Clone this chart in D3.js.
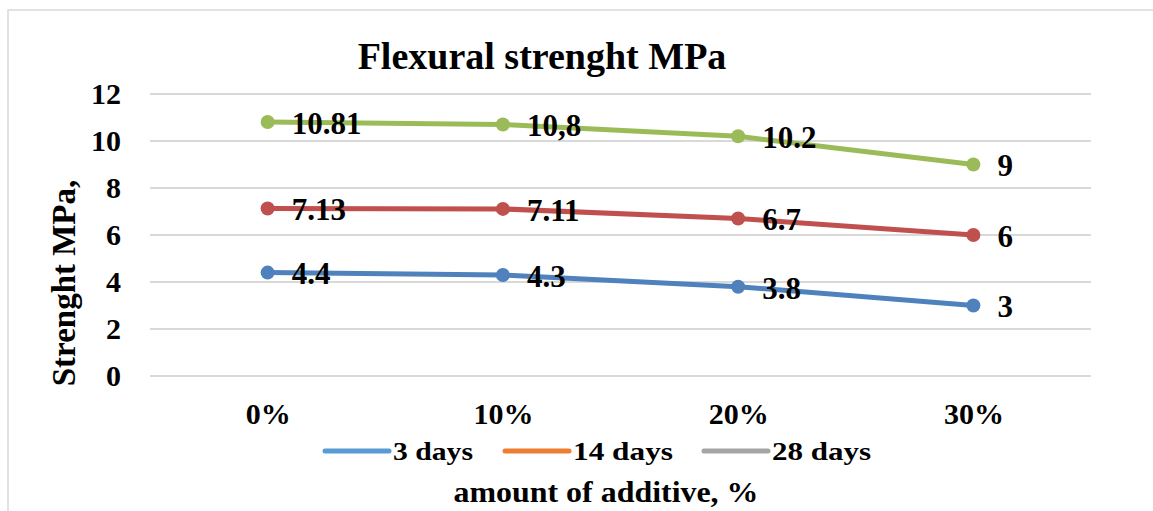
<!DOCTYPE html>
<html>
<head>
<meta charset="utf-8">
<script src="https://cdn.jsdelivr.net/npm/d3@7"></script>
<style>
  body { margin: 0; background: #fff; }
  text { font-family: "Liberation Serif", "Times New Roman", serif; font-weight: bold; fill: #000; }
</style>
</head>
<body>
<svg id="chart"></svg>
<script>
const categories = ["0%", "10%", "20%", "30%"];
const yTicks = [0, 2, 4, 6, 8, 10, 12];

const series = [
    { name: "3 days", line: "#4f81bd", legend: "#5b9bd5",
      values: [4.4, 4.3, 3.8, 3.0], labels: ["4.4", "4.3", "3.8", "3"] },
    { name: "14 days", line: "#c0504d", legend: "#ed7d31",
      values: [7.13, 7.11, 6.7, 6.0], labels: ["7.13", "7.11", "6.7", "6"] },
    { name: "28 days", line: "#9bbb59", legend: "#a5a5a5",
      values: [10.81, 10.7, 10.2, 9.0], labels: ["10.81", "10,8", "10.2", "9"] }
];

const width = 1153;
const height = 511;
const margin = { left: 150, right: 62, top: 94, bottom: 135 };

const svg = d3.select("#chart")
    .attr("width", width)
    .attr("height", height);

// chart area frame (only left and top edges are in view)
svg.append("path")
    .attr("d", `M8,${height} L8,10 L${width},10`)
    .attr("fill", "none")
    .attr("stroke", "#d9d9d9")
    .attr("stroke-width", 1.5);

const xScale = d3.scalePoint()
    .domain(categories)
    .range([margin.left, width - margin.right])
    .padding(0.5);

const yScale = d3.scaleLinear()
    .domain([0, 12])
    .range([height - margin.bottom, margin.top]);

// gridlines
svg.append("g")
    .selectAll("line")
    .data(yTicks)
    .join("line")
    .attr("x1", margin.left)
    .attr("x2", width - margin.right)
    .attr("y1", d => yScale(d))
    .attr("y2", d => yScale(d))
    .attr("stroke", "#d9d9d9")
    .attr("stroke-width", 2);

const yAxis = d3.axisLeft(yScale)
    .tickValues(yTicks)
    .tickSize(0)
    .tickPadding(29);

svg.append("g")
    .attr("transform", `translate(${margin.left}, 0)`)
    .call(yAxis)
    .call(g => g.select(".domain").remove())
    .selectAll("text")
    .attr("font-size", 30)
    .attr("font-family", null);

const xAxis = d3.axisBottom(xScale).tickSize(0).tickPadding(0);

svg.append("g")
    .attr("transform", `translate(0, ${height - margin.bottom})`)
    .call(xAxis)
    .call(g => g.select(".domain").remove())
    .selectAll("text")
    .attr("font-size", 30)
    .attr("font-family", null)
    .attr("dy", null)
    .attr("y", 48);

const line = d3.line()
    .x((d, i) => xScale(categories[i]))
    .y(d => yScale(d));

series.forEach(s => {
    svg.append("path")
        .datum(s.values)
        .attr("d", line)
        .attr("fill", "none")
        .attr("stroke", s.line)
        .attr("stroke-width", 5);

    svg.append("g")
        .selectAll("circle")
        .data(s.values)
        .join("circle")
        .attr("cx", (d, i) => xScale(categories[i]))
        .attr("cy", d => yScale(d))
        .attr("r", 7)
        .attr("fill", s.line);

    svg.append("g")
        .selectAll("text")
        .data(s.values)
        .join("text")
        .attr("x", (d, i) => xScale(categories[i]) + 24)
        .attr("y", d => yScale(d) + 1)
        .attr("dy", "0.35em")
        .attr("font-size", 31)
        .text((d, i) => s.labels[i]);
});

// title
svg.append("text")
    .attr("x", 542)
    .attr("y", 69)
    .attr("text-anchor", "middle")
    .attr("font-size", 38)
    .text("Flexural strenght MPa");

// y axis title
svg.append("text")
    .attr("transform", "translate(75, 283) rotate(-90)")
    .attr("text-anchor", "middle")
    .attr("font-size", 33)
    .text("Strenght MPa,");

// x axis title
svg.append("text")
    .attr("x", 606)
    .attr("y", 502)
    .attr("text-anchor", "middle")
    .attr("font-size", 30)
    .attr("textLength", 305)
    .attr("lengthAdjust", "spacingAndGlyphs")
    .text("amount of additive, %");

// legend
const legendX = [325, 505, 704];
const legendTextW = [80, 100, 99];
const legend = svg.append("g")
    .selectAll("g")
    .data(series)
    .join("g")
    .attr("transform", (d, i) => `translate(${legendX[i]}, 451)`);

legend.append("line")
    .attr("x1", 0).attr("x2", 64)
    .attr("stroke", d => d.legend)
    .attr("stroke-width", 5)
    .attr("stroke-linecap", "round");

legend.append("text")
    .attr("x", 68)
    .attr("dy", "0.35em")
    .attr("font-size", 25)
    .attr("textLength", (d, i) => legendTextW[i])
    .attr("lengthAdjust", "spacingAndGlyphs")
    .text(d => d.name);
</script>
</body>
</html>
